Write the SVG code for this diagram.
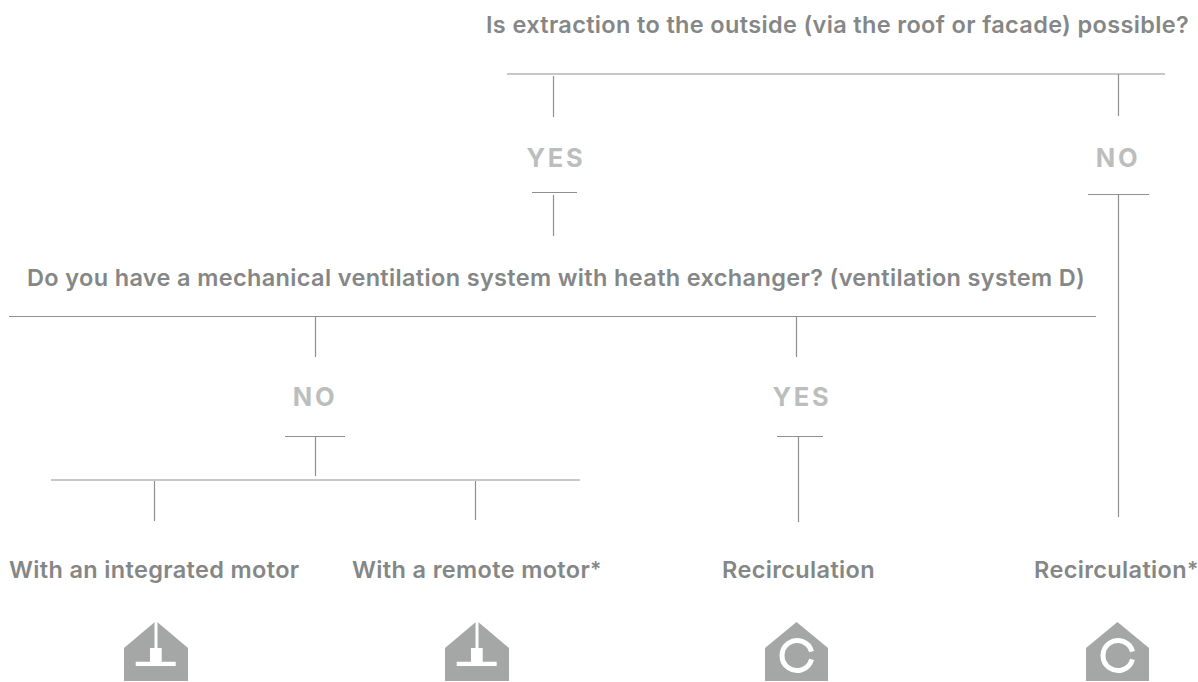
<svg xmlns="http://www.w3.org/2000/svg" width="1198" height="682" viewBox="0 0 1198 682">
<style>
text{font-family:"Inter","Liberation Sans",Arial,sans-serif;font-weight:600}
.q{fill:#858787;font-size:23.500px;letter-spacing:.35px}
.s{font-size:21px}
.a{fill:#bcbebd;font-size:25.500px;font-weight:700;letter-spacing:2.800px;text-anchor:middle}
.l{stroke:#8f9191;stroke-width:1.2;fill:none}
.h{fill:#a5a7a6}
.w{fill:#fff}
.c{fill:none;stroke:#fff;stroke-width:5}
</style>
<defs>
<g id="motor"><path class="h" d="M0 26L32 -1L64 26V59H0Z"/><path class="w" d="M30.500 -2H33.500V26H37.700V39.700H51.700V44H11.700V39.700H26V26H30.500Z"/></g>
<g id="recirc"><path class="h" d="M0 26L31.500 0L63 26V59H0Z"/><path class="c" d="M46.500 29.700A15 15 0 1 0 46.500 37.300"/></g>
</defs>
<g id="connectors">
<path class="l" d="M507 74H1165M553.500 76V117M1118.500 74V116M532 192.500H577M553.500 195V236M1088 194.500H1149M1118.500 195V517M9 316.500H1096M315.500 317V357M796.500 317V357M285 436.500H345M315.500 436V476M777 436.500H823M798.500 437V522M51 480H580M154.500 481V521M475.500 481V520"/>
</g>
<g id="q1"><text class="q" x="486" y="33">Is extraction to the outside (via the roof or facade) possible?</text></g>
<g id="yes1"><text class="a" x="556" y="167">YES</text></g>
<g id="no1"><text class="a" x="1118" y="167">NO</text></g>
<g id="q2"><text class="q" x="27" y="286">Do you have a mechanical ventilation system with heath exchanger? (ventilation system D)</text></g>
<g id="no2"><text class="a" x="315" y="406">NO</text></g>
<g id="yes2"><text class="a" x="802" y="406">YES</text></g>
<g id="out1"><text class="q" x="9" y="578">With an integrated motor</text><use href="#motor" x="124" y="622"/></g>
<g id="out2"><text class="q" x="352" y="578">With a remote motor<tspan class="s" dy="-1.500">*</tspan></text><use href="#motor" x="445" y="622"/></g>
<g id="out3"><text class="q" x="722" y="578">Recirculation</text><use href="#recirc" x="765" y="622"/></g>
<g id="out4"><text class="q" x="1034" y="578">Recirculation<tspan class="s" dy="-1.500">*</tspan></text><use href="#recirc" x="1086" y="622"/></g>
</svg>
